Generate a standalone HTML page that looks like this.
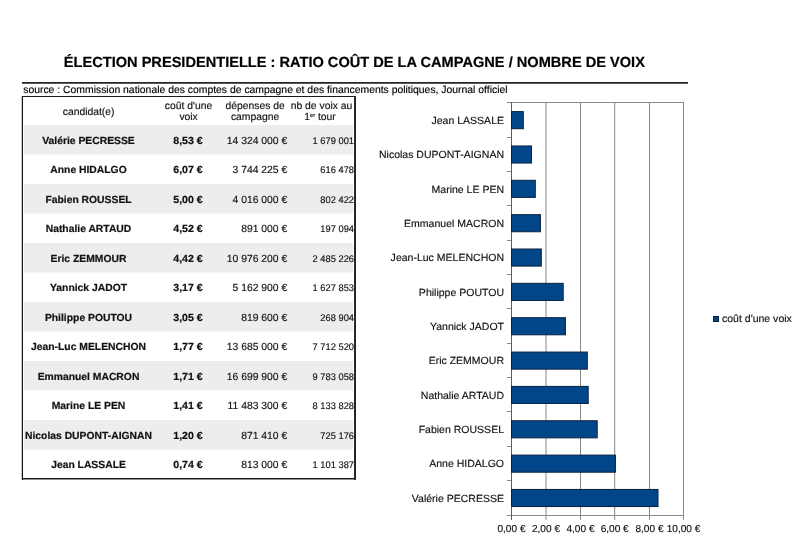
<!DOCTYPE html>
<html><head><meta charset="utf-8"><style>
html,body{margin:0;padding:0;background:#fff;}
body{width:797px;height:548px;position:relative;overflow:hidden;font-family:"Liberation Sans", sans-serif;}
.t{position:absolute;line-height:1;white-space:nowrap;text-rendering:geometricPrecision;}
.t sup{font-size:0.55em;vertical-align:0.6em;line-height:0;}
.r{position:absolute;}
</style></head><body><div id="wrap" style="position:absolute;left:0;top:0;width:797px;height:548px;will-change:transform;">
<div class="t" style="left:63.80px;top:56px;width:700px;font-size:14.6px;font-weight:bold;-webkit-text-stroke:0.2px currentColor;text-align:left;color:#000;">ÉLECTION PRESIDENTIELLE : RATIO COÛT DE LA CAMPAGNE / NOMBRE DE VOIX</div>
<div class="r" style="left:22px;top:82px;width:666px;height:1px;background:#262626;"></div>
<div class="r" style="left:22px;top:83px;width:666px;height:1px;background:#5a5a5a;"></div>
<div class="t" style="left:23.20px;top:86px;width:600px;font-size:10.4px;-webkit-text-stroke:0.15px currentColor;text-align:left;color:#000;">source : Commission nationale des comptes de campagne et des financements politiques, Journal officiel</div>
<svg class="r" style="left:0;top:0" width="797" height="548" viewBox="0 0 797 548"><rect x="24" y="125.0" width="329" height="29.5" fill="#ededed"/><rect x="24" y="184.0" width="329" height="29.5" fill="#ededed"/><rect x="24" y="243.0" width="329" height="29.5" fill="#ededed"/><rect x="24" y="302.0" width="329" height="29.5" fill="#ededed"/><rect x="24" y="361.0" width="329" height="29.5" fill="#ededed"/><rect x="24" y="420.0" width="329" height="29.5" fill="#ededed"/></svg>
<div class="r" style="left:22px;top:96px;width:334px;height:1px;background:#1a1a1a;"></div>
<div class="r" style="left:22px;top:478px;width:334px;height:1px;background:#1a1a1a;"></div>
<div class="r" style="left:22px;top:479px;width:334px;height:1px;background:#909090;"></div>
<div class="r" style="left:21px;top:96px;width:1px;height:384px;background:#c8c8c8;"></div>
<div class="r" style="left:22px;top:96px;width:1px;height:384px;background:#141414;"></div>
<div class="r" style="left:354px;top:96px;width:2px;height:384px;background:#262626;"></div>
<div class="t" style="left:-11.50px;top:137px;width:200px;font-size:10.35px;font-weight:bold;-webkit-text-stroke:0.2px currentColor;text-align:center;color:#111;">Valérie PECRESSE</div>
<div class="t" style="left:138.30px;top:137px;width:100px;font-size:10.35px;font-weight:bold;-webkit-text-stroke:0.2px currentColor;text-align:center;transform:scaleX(1.0250);transform-origin:center 0;color:#111;">8,53 €</div>
<div class="t" style="left:187.20px;top:137px;width:100px;font-size:10.35px;-webkit-text-stroke:0.15px currentColor;text-align:right;color:#111;">14 324 000 €</div>
<div class="t" style="left:254.30px;top:137px;width:100px;font-size:9.6px;-webkit-text-stroke:0.15px currentColor;text-align:right;transform:scaleX(0.9700);transform-origin:right 0;color:#111;">1 679 001</div>
<div class="t" style="left:-11.50px;top:166px;width:200px;font-size:10.35px;font-weight:bold;-webkit-text-stroke:0.2px currentColor;text-align:center;color:#111;">Anne HIDALGO</div>
<div class="t" style="left:138.30px;top:166px;width:100px;font-size:10.35px;font-weight:bold;-webkit-text-stroke:0.2px currentColor;text-align:center;transform:scaleX(1.0250);transform-origin:center 0;color:#111;">6,07 €</div>
<div class="t" style="left:187.20px;top:166px;width:100px;font-size:10.35px;-webkit-text-stroke:0.15px currentColor;text-align:right;color:#111;">3 744 225 €</div>
<div class="t" style="left:254.30px;top:166px;width:100px;font-size:9.6px;-webkit-text-stroke:0.15px currentColor;text-align:right;transform:scaleX(0.9700);transform-origin:right 0;color:#111;">616 478</div>
<div class="t" style="left:-11.50px;top:196px;width:200px;font-size:10.35px;font-weight:bold;-webkit-text-stroke:0.2px currentColor;text-align:center;color:#111;">Fabien ROUSSEL</div>
<div class="t" style="left:138.30px;top:196px;width:100px;font-size:10.35px;font-weight:bold;-webkit-text-stroke:0.2px currentColor;text-align:center;transform:scaleX(1.0250);transform-origin:center 0;color:#111;">5,00 €</div>
<div class="t" style="left:187.20px;top:196px;width:100px;font-size:10.35px;-webkit-text-stroke:0.15px currentColor;text-align:right;color:#111;">4 016 000 €</div>
<div class="t" style="left:254.30px;top:196px;width:100px;font-size:9.6px;-webkit-text-stroke:0.15px currentColor;text-align:right;transform:scaleX(0.9700);transform-origin:right 0;color:#111;">802 422</div>
<div class="t" style="left:-11.50px;top:225px;width:200px;font-size:10.35px;font-weight:bold;-webkit-text-stroke:0.2px currentColor;text-align:center;color:#111;">Nathalie ARTAUD</div>
<div class="t" style="left:138.30px;top:225px;width:100px;font-size:10.35px;font-weight:bold;-webkit-text-stroke:0.2px currentColor;text-align:center;transform:scaleX(1.0250);transform-origin:center 0;color:#111;">4,52 €</div>
<div class="t" style="left:187.20px;top:225px;width:100px;font-size:10.35px;-webkit-text-stroke:0.15px currentColor;text-align:right;color:#111;">891 000 €</div>
<div class="t" style="left:254.30px;top:225px;width:100px;font-size:9.6px;-webkit-text-stroke:0.15px currentColor;text-align:right;transform:scaleX(0.9700);transform-origin:right 0;color:#111;">197 094</div>
<div class="t" style="left:-11.50px;top:255px;width:200px;font-size:10.35px;font-weight:bold;-webkit-text-stroke:0.2px currentColor;text-align:center;color:#111;">Eric ZEMMOUR</div>
<div class="t" style="left:138.30px;top:255px;width:100px;font-size:10.35px;font-weight:bold;-webkit-text-stroke:0.2px currentColor;text-align:center;transform:scaleX(1.0250);transform-origin:center 0;color:#111;">4,42 €</div>
<div class="t" style="left:187.20px;top:255px;width:100px;font-size:10.35px;-webkit-text-stroke:0.15px currentColor;text-align:right;color:#111;">10 976 200 €</div>
<div class="t" style="left:254.30px;top:255px;width:100px;font-size:9.6px;-webkit-text-stroke:0.15px currentColor;text-align:right;transform:scaleX(0.9700);transform-origin:right 0;color:#111;">2 485 226</div>
<div class="t" style="left:-11.50px;top:284px;width:200px;font-size:10.35px;font-weight:bold;-webkit-text-stroke:0.2px currentColor;text-align:center;color:#111;">Yannick JADOT</div>
<div class="t" style="left:138.30px;top:284px;width:100px;font-size:10.35px;font-weight:bold;-webkit-text-stroke:0.2px currentColor;text-align:center;transform:scaleX(1.0250);transform-origin:center 0;color:#111;">3,17 €</div>
<div class="t" style="left:187.20px;top:284px;width:100px;font-size:10.35px;-webkit-text-stroke:0.15px currentColor;text-align:right;color:#111;">5 162 900 €</div>
<div class="t" style="left:254.30px;top:284px;width:100px;font-size:9.6px;-webkit-text-stroke:0.15px currentColor;text-align:right;transform:scaleX(0.9700);transform-origin:right 0;color:#111;">1 627 853</div>
<div class="t" style="left:-11.50px;top:314px;width:200px;font-size:10.35px;font-weight:bold;-webkit-text-stroke:0.2px currentColor;text-align:center;color:#111;">Philippe POUTOU</div>
<div class="t" style="left:138.30px;top:314px;width:100px;font-size:10.35px;font-weight:bold;-webkit-text-stroke:0.2px currentColor;text-align:center;transform:scaleX(1.0250);transform-origin:center 0;color:#111;">3,05 €</div>
<div class="t" style="left:187.20px;top:314px;width:100px;font-size:10.35px;-webkit-text-stroke:0.15px currentColor;text-align:right;color:#111;">819 600 €</div>
<div class="t" style="left:254.30px;top:314px;width:100px;font-size:9.6px;-webkit-text-stroke:0.15px currentColor;text-align:right;transform:scaleX(0.9700);transform-origin:right 0;color:#111;">268 904</div>
<div class="t" style="left:-11.50px;top:343px;width:200px;font-size:10.35px;font-weight:bold;-webkit-text-stroke:0.2px currentColor;text-align:center;color:#111;">Jean-Luc MELENCHON</div>
<div class="t" style="left:138.30px;top:343px;width:100px;font-size:10.35px;font-weight:bold;-webkit-text-stroke:0.2px currentColor;text-align:center;transform:scaleX(1.0250);transform-origin:center 0;color:#111;">1,77 €</div>
<div class="t" style="left:187.20px;top:343px;width:100px;font-size:10.35px;-webkit-text-stroke:0.15px currentColor;text-align:right;color:#111;">13 685 000 €</div>
<div class="t" style="left:254.30px;top:343px;width:100px;font-size:9.6px;-webkit-text-stroke:0.15px currentColor;text-align:right;transform:scaleX(0.9700);transform-origin:right 0;color:#111;">7 712 520</div>
<div class="t" style="left:-11.50px;top:373px;width:200px;font-size:10.35px;font-weight:bold;-webkit-text-stroke:0.2px currentColor;text-align:center;color:#111;">Emmanuel MACRON</div>
<div class="t" style="left:138.30px;top:373px;width:100px;font-size:10.35px;font-weight:bold;-webkit-text-stroke:0.2px currentColor;text-align:center;transform:scaleX(1.0250);transform-origin:center 0;color:#111;">1,71 €</div>
<div class="t" style="left:187.20px;top:373px;width:100px;font-size:10.35px;-webkit-text-stroke:0.15px currentColor;text-align:right;color:#111;">16 699 900 €</div>
<div class="t" style="left:254.30px;top:373px;width:100px;font-size:9.6px;-webkit-text-stroke:0.15px currentColor;text-align:right;transform:scaleX(0.9700);transform-origin:right 0;color:#111;">9 783 058</div>
<div class="t" style="left:-11.50px;top:402px;width:200px;font-size:10.35px;font-weight:bold;-webkit-text-stroke:0.2px currentColor;text-align:center;color:#111;">Marine LE PEN</div>
<div class="t" style="left:138.30px;top:402px;width:100px;font-size:10.35px;font-weight:bold;-webkit-text-stroke:0.2px currentColor;text-align:center;transform:scaleX(1.0250);transform-origin:center 0;color:#111;">1,41 €</div>
<div class="t" style="left:187.20px;top:402px;width:100px;font-size:10.35px;-webkit-text-stroke:0.15px currentColor;text-align:right;color:#111;">11 483 300 €</div>
<div class="t" style="left:254.30px;top:402px;width:100px;font-size:9.6px;-webkit-text-stroke:0.15px currentColor;text-align:right;transform:scaleX(0.9700);transform-origin:right 0;color:#111;">8 133 828</div>
<div class="t" style="left:-11.50px;top:432px;width:200px;font-size:10.35px;font-weight:bold;-webkit-text-stroke:0.2px currentColor;text-align:center;color:#111;">Nicolas DUPONT-AIGNAN</div>
<div class="t" style="left:138.30px;top:432px;width:100px;font-size:10.35px;font-weight:bold;-webkit-text-stroke:0.2px currentColor;text-align:center;transform:scaleX(1.0250);transform-origin:center 0;color:#111;">1,20 €</div>
<div class="t" style="left:187.20px;top:432px;width:100px;font-size:10.35px;-webkit-text-stroke:0.15px currentColor;text-align:right;color:#111;">871 410 €</div>
<div class="t" style="left:254.30px;top:432px;width:100px;font-size:9.6px;-webkit-text-stroke:0.15px currentColor;text-align:right;transform:scaleX(0.9700);transform-origin:right 0;color:#111;">725 176</div>
<div class="t" style="left:-11.50px;top:461px;width:200px;font-size:10.35px;font-weight:bold;-webkit-text-stroke:0.2px currentColor;text-align:center;color:#111;">Jean LASSALE</div>
<div class="t" style="left:138.30px;top:461px;width:100px;font-size:10.35px;font-weight:bold;-webkit-text-stroke:0.2px currentColor;text-align:center;transform:scaleX(1.0250);transform-origin:center 0;color:#111;">0,74 €</div>
<div class="t" style="left:187.20px;top:461px;width:100px;font-size:10.35px;-webkit-text-stroke:0.15px currentColor;text-align:right;color:#111;">813 000 €</div>
<div class="t" style="left:254.30px;top:461px;width:100px;font-size:9.6px;-webkit-text-stroke:0.15px currentColor;text-align:right;transform:scaleX(0.9700);transform-origin:right 0;color:#111;">1 101 387</div>
<div class="t" style="left:-11.40px;top:108px;width:200px;font-size:10.35px;-webkit-text-stroke:0.15px currentColor;text-align:center;color:#111;">candidat(e)</div>
<div class="t" style="left:138.50px;top:102px;width:100px;font-size:10.35px;-webkit-text-stroke:0.15px currentColor;text-align:center;color:#111;">coût d'une</div>
<div class="t" style="left:138.60px;top:113px;width:100px;font-size:10.35px;-webkit-text-stroke:0.15px currentColor;text-align:center;color:#111;">voix</div>
<div class="t" style="left:205.20px;top:102px;width:100px;font-size:10.35px;-webkit-text-stroke:0.15px currentColor;text-align:center;color:#111;">dépenses de</div>
<div class="t" style="left:205.10px;top:113px;width:100px;font-size:10.35px;-webkit-text-stroke:0.15px currentColor;text-align:center;color:#111;">campagne</div>
<div class="t" style="left:271.50px;top:102px;width:100px;font-size:10.35px;-webkit-text-stroke:0.15px currentColor;text-align:center;color:#111;">nb de voix au</div>
<div class="t" style="left:270.00px;top:113px;width:100px;font-size:10.35px;-webkit-text-stroke:0.15px currentColor;text-align:center;color:#111;">1<sup>er</sup> tour</div>
<div class="t" style="left:304.30px;top:117px;width:200px;font-size:10.4px;-webkit-text-stroke:0.15px currentColor;text-align:right;transform:scaleX(1.0120);transform-origin:right 0;color:#111;">Jean LASSALE</div>
<div class="t" style="left:304.30px;top:151px;width:200px;font-size:10.4px;-webkit-text-stroke:0.15px currentColor;text-align:right;transform:scaleX(1.0120);transform-origin:right 0;color:#111;">Nicolas DUPONT-AIGNAN</div>
<div class="t" style="left:304.30px;top:186px;width:200px;font-size:10.4px;-webkit-text-stroke:0.15px currentColor;text-align:right;transform:scaleX(1.0120);transform-origin:right 0;color:#111;">Marine LE PEN</div>
<div class="t" style="left:304.30px;top:220px;width:200px;font-size:10.4px;-webkit-text-stroke:0.15px currentColor;text-align:right;transform:scaleX(1.0120);transform-origin:right 0;color:#111;">Emmanuel MACRON</div>
<div class="t" style="left:304.30px;top:254px;width:200px;font-size:10.4px;-webkit-text-stroke:0.15px currentColor;text-align:right;transform:scaleX(1.0120);transform-origin:right 0;color:#111;">Jean-Luc MELENCHON</div>
<div class="t" style="left:304.30px;top:289px;width:200px;font-size:10.4px;-webkit-text-stroke:0.15px currentColor;text-align:right;transform:scaleX(1.0120);transform-origin:right 0;color:#111;">Philippe POUTOU</div>
<div class="t" style="left:304.30px;top:323px;width:200px;font-size:10.4px;-webkit-text-stroke:0.15px currentColor;text-align:right;transform:scaleX(1.0120);transform-origin:right 0;color:#111;">Yannick JADOT</div>
<div class="t" style="left:304.30px;top:357px;width:200px;font-size:10.4px;-webkit-text-stroke:0.15px currentColor;text-align:right;transform:scaleX(1.0120);transform-origin:right 0;color:#111;">Eric ZEMMOUR</div>
<div class="t" style="left:304.30px;top:392px;width:200px;font-size:10.4px;-webkit-text-stroke:0.15px currentColor;text-align:right;transform:scaleX(1.0120);transform-origin:right 0;color:#111;">Nathalie ARTAUD</div>
<div class="t" style="left:304.30px;top:426px;width:200px;font-size:10.4px;-webkit-text-stroke:0.15px currentColor;text-align:right;transform:scaleX(1.0120);transform-origin:right 0;color:#111;">Fabien ROUSSEL</div>
<div class="t" style="left:304.30px;top:460px;width:200px;font-size:10.4px;-webkit-text-stroke:0.15px currentColor;text-align:right;transform:scaleX(1.0120);transform-origin:right 0;color:#111;">Anne HIDALGO</div>
<div class="t" style="left:304.30px;top:495px;width:200px;font-size:10.4px;-webkit-text-stroke:0.15px currentColor;text-align:right;transform:scaleX(1.0120);transform-origin:right 0;color:#111;">Valérie PECRESSE</div>
<svg class="r" style="left:0;top:0" width="797" height="548" viewBox="0 0 797 548"><line x1="546.00" y1="102" x2="546.00" y2="520" stroke="#888888" stroke-width="1"/><line x1="580.50" y1="102" x2="580.50" y2="520" stroke="#888888" stroke-width="1"/><line x1="614.70" y1="102" x2="614.70" y2="520" stroke="#888888" stroke-width="1"/><line x1="649.50" y1="102" x2="649.50" y2="520" stroke="#888888" stroke-width="1"/><line x1="683.50" y1="102" x2="683.50" y2="520" stroke="#888888" stroke-width="1"/><line x1="511" y1="102.5" x2="684" y2="102.5" stroke="#888888" stroke-width="1"/><line x1="507" y1="515.5" x2="684" y2="515.5" stroke="#888888" stroke-width="1"/><line x1="511.5" y1="102" x2="511.5" y2="520" stroke="#5e5e5e" stroke-width="1"/><line x1="507" y1="102.5" x2="511" y2="102.5" stroke="#888888" stroke-width="1"/><line x1="507" y1="137.5" x2="511" y2="137.5" stroke="#888888" stroke-width="1"/><line x1="507" y1="171.5" x2="511" y2="171.5" stroke="#888888" stroke-width="1"/><line x1="507" y1="205.5" x2="511" y2="205.5" stroke="#888888" stroke-width="1"/><line x1="507" y1="240.5" x2="511" y2="240.5" stroke="#888888" stroke-width="1"/><line x1="507" y1="274.5" x2="511" y2="274.5" stroke="#888888" stroke-width="1"/><line x1="507" y1="308.5" x2="511" y2="308.5" stroke="#888888" stroke-width="1"/><line x1="507" y1="343.5" x2="511" y2="343.5" stroke="#888888" stroke-width="1"/><line x1="507" y1="377.5" x2="511" y2="377.5" stroke="#888888" stroke-width="1"/><line x1="507" y1="411.5" x2="511" y2="411.5" stroke="#888888" stroke-width="1"/><line x1="507" y1="446.5" x2="511" y2="446.5" stroke="#888888" stroke-width="1"/><line x1="507" y1="480.5" x2="511" y2="480.5" stroke="#888888" stroke-width="1"/><rect x="511.5" y="111.60" width="11.80" height="17.1" fill="#02468a" stroke="#08213f" stroke-width="1"/><rect x="511.5" y="145.95" width="20.00" height="17.1" fill="#02468a" stroke="#08213f" stroke-width="1"/><rect x="511.5" y="180.30" width="23.80" height="17.1" fill="#02468a" stroke="#08213f" stroke-width="1"/><rect x="511.5" y="214.65" width="28.90" height="17.1" fill="#02468a" stroke="#08213f" stroke-width="1"/><rect x="511.5" y="249.00" width="29.80" height="17.1" fill="#02468a" stroke="#08213f" stroke-width="1"/><rect x="511.5" y="283.35" width="51.70" height="17.1" fill="#02468a" stroke="#08213f" stroke-width="1"/><rect x="511.5" y="317.70" width="53.90" height="17.1" fill="#02468a" stroke="#08213f" stroke-width="1"/><rect x="511.5" y="352.05" width="75.80" height="17.1" fill="#02468a" stroke="#08213f" stroke-width="1"/><rect x="511.5" y="386.40" width="76.70" height="17.1" fill="#02468a" stroke="#08213f" stroke-width="1"/><rect x="511.5" y="420.75" width="85.70" height="17.1" fill="#02468a" stroke="#08213f" stroke-width="1"/><rect x="511.5" y="455.10" width="103.90" height="17.1" fill="#02468a" stroke="#08213f" stroke-width="1"/><rect x="511.5" y="489.45" width="146.50" height="17.1" fill="#02468a" stroke="#08213f" stroke-width="1"/></svg>
<div class="t" style="left:471.50px;top:525px;width:80px;font-size:10.1px;-webkit-text-stroke:0.15px currentColor;text-align:center;color:#111;">0,00 €</div>
<div class="t" style="left:506.00px;top:525px;width:80px;font-size:10.1px;-webkit-text-stroke:0.15px currentColor;text-align:center;color:#111;">2,00 €</div>
<div class="t" style="left:540.50px;top:525px;width:80px;font-size:10.1px;-webkit-text-stroke:0.15px currentColor;text-align:center;color:#111;">4,00 €</div>
<div class="t" style="left:574.70px;top:525px;width:80px;font-size:10.1px;-webkit-text-stroke:0.15px currentColor;text-align:center;color:#111;">6,00 €</div>
<div class="t" style="left:609.50px;top:525px;width:80px;font-size:10.1px;-webkit-text-stroke:0.15px currentColor;text-align:center;color:#111;">8,00 €</div>
<div class="t" style="left:643.50px;top:525px;width:80px;font-size:10.1px;-webkit-text-stroke:0.15px currentColor;text-align:center;color:#111;">10,00 €</div>
<div class="r" style="left:713px;top:316px;width:6px;height:6px;background:#004586;box-shadow:inset 0 0 0 1px #08213f;"></div>
<div class="t" style="left:722.00px;top:315px;width:100px;font-size:10.4px;-webkit-text-stroke:0.15px currentColor;text-align:left;transform:scaleX(1.0120);transform-origin:left 0;color:#111;">coût d'une voix</div>
</div></body></html>
